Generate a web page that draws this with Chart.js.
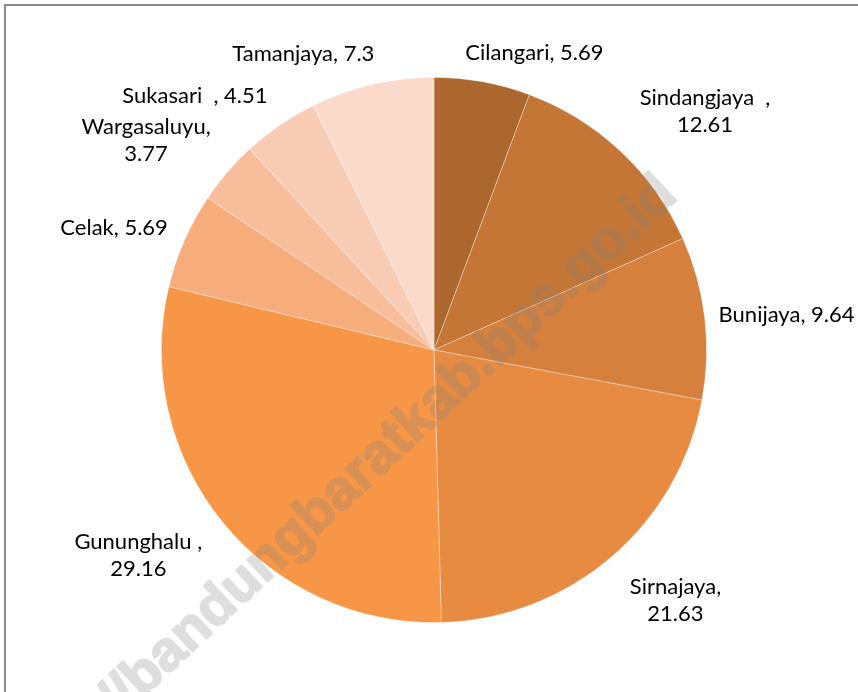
<!DOCTYPE html>
<html><head><meta charset="utf-8">
<script src="https://cdn.jsdelivr.net/npm/chart.js@4/dist/chart.umd.min.js"></script>
<style>html,body{margin:0;padding:0;background:#fff;} canvas{display:block;}</style>
</head><body>
<canvas id="c" width="858" height="692"></canvas>
<script>
const categories = ['Cilangari', 'Sindangjaya  ', 'Bunijaya', 'Sirnajaya', 'Gununghalu ', 'Celak', 'Wargasaluyu', 'Sukasari  ', 'Tamanjaya'];
const values = [5.69, 12.61, 9.64, 21.63, 29.16, 5.69, 3.77, 4.51, 7.3];
const valueLabels = ['5.69', '12.61', '9.64', '21.63', '29.16', '5.69', '3.77', '4.51', '7.3'];
const sliceColors = ['#AB672E', '#C47636', '#D5813D', '#E78B42', '#F79646', '#F7AD7B', '#F8BD9B', '#F9CCB6', '#FBD9CB'];
const watermarkText = 'http://bandungbaratkab.bps.go.id';

const framePlugin = {
  id: 'frame',
  beforeDraw(chart) {
    const ctx = chart.ctx;
    ctx.save();
    ctx.fillStyle = '#ffffff';
    ctx.fillRect(0, 0, chart.width, chart.height);
    ctx.strokeStyle = '#8a8a8a';
    ctx.lineWidth = 2;
    ctx.beginPath();
    ctx.moveTo(5, chart.height);
    ctx.lineTo(5, 5);
    ctx.lineTo(chart.width, 5);
    ctx.stroke();
    ctx.restore();
  }
};

const labelPlugin = {
  id: 'sliceLabels',
  afterDatasetsDraw(chart, args, opts) {
    const ctx = chart.ctx;
    const meta = chart.getDatasetMeta(0);
    ctx.save();
    ctx.font = opts.font;
    ctx.fillStyle = opts.color;
    ctx.textBaseline = 'middle';
    ctx.textAlign = 'center';
    meta.data.forEach((arc, i) => {
      const p = arc.getProps(['x', 'y', 'startAngle', 'endAngle', 'outerRadius'], true);
      const mid = (p.startAngle + p.endAngle) / 2;
      const r = p.outerRadius + opts.gap[i];
      const ax = p.x + Math.cos(mid) * r;
      const ay = p.y + Math.sin(mid) * r;
      const lines = opts.wrap[i]
        ? [categories[i] + ',', valueLabels[i]]
        : [categories[i] + ', ' + valueLabels[i]];
      const w = Math.max(...lines.map(l => ctx.measureText(l).width));
      const h = lines.length * opts.lineHeight;
      const s = Math.max(-1, Math.min(1, Math.cos(mid) * 4));
      const c = -Math.sin(mid);
      const left = ax - w * (1 - s) / 2;
      const top = ay - h * (1 + c) / 2;
      lines.forEach((l, k) => ctx.fillText(l, left + w / 2, top + opts.lineHeight * (k + 0.5)));
    });
    ctx.restore();
  }
};

const watermarkPlugin = {
  id: 'watermark',
  afterDraw(chart, args, opts) {
    const ctx = chart.ctx;
    const off = document.createElement('canvas');
    off.width = chart.width;
    off.height = chart.height;
    const o = off.getContext('2d');
    o.translate(opts.x, opts.y);
    o.rotate(opts.angle * Math.PI / 180);
    o.font = opts.font;
    o.fillStyle = opts.color;
    o.strokeStyle = opts.color;
    o.lineWidth = opts.weight;
    o.lineJoin = 'round';
    o.textAlign = 'right';
    o.textBaseline = 'alphabetic';
    o.fillText(watermarkText, 0, 0);
    o.strokeText(watermarkText, 0, 0);
    ctx.save();
    ctx.globalAlpha = opts.alpha;
    ctx.drawImage(off, 0, 0);
    ctx.restore();
  }
};

new Chart(document.getElementById('c'), {
  type: 'pie',
  data: {
    labels: categories,
    datasets: [{
      data: values,
      backgroundColor: sliceColors,
      borderColor: 'rgba(255,255,255,0.4)',
      borderWidth: 0.8
    }]
  },
  options: {
    responsive: false,
    animation: false,
    layout: { padding: { left: 161, right: 151, top: 77, bottom: 69 } },
    plugins: {
      legend: { display: false },
      tooltip: { enabled: false },
      sliceLabels: {
        font: '22px Lato',
        color: '#000000',
        gap: [16, 28, 14, 29, 26, 18, 22, 22, 18],
        lineHeight: 27,
        wrap: [false, true, false, true, true, false, true, false, false]
      },
      watermark: {
        x: 679, y: 198, angle: -43,
        font: 'bold 56px "Liberation Sans"',
        color: '#808080',
        weight: 2,
        alpha: 0.25
      }
    }
  },
  plugins: [framePlugin, labelPlugin, watermarkPlugin]
});
</script>
</body></html>
